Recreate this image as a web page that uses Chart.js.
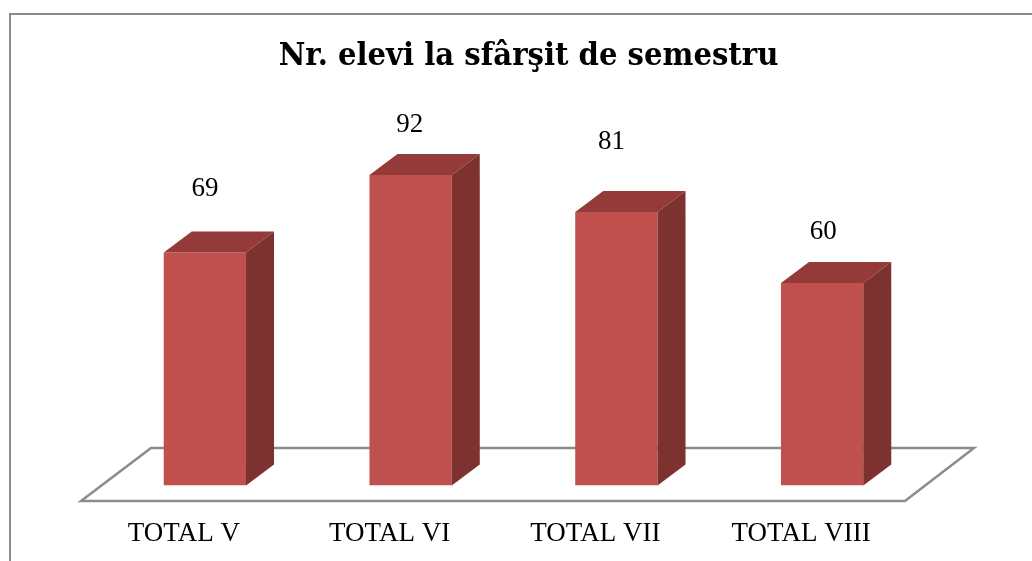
<!DOCTYPE html>
<html>
<head>
<meta charset="utf-8">
<title>Nr. elevi la sfârşit de semestru</title>
<script src="https://cdn.jsdelivr.net/npm/chart.js@4"></script>
<style>
    html, body { margin: 0; padding: 0; background: #fff; }
    #wrap { position: relative; width: 1032px; height: 561px; overflow: hidden; }
    #frame { position: absolute; left: 9px; top: 13px; width: 1040px; height: 560px;
             border-left: 2px solid #8c8c8c; border-top: 2px solid #8c8c8c; box-sizing: border-box; }
</style>
</head>
<body>
<div id="wrap">
    <div id="frame"></div>
    <canvas id="chart" width="1032" height="561" style="position:absolute;left:0;top:0"></canvas>
</div>
<script>
// Data
const categories = ['TOTAL V', 'TOTAL VI', 'TOTAL VII', 'TOTAL VIII'];
const students = [69, 92, 81, 60];
const chartTitle = 'Nr. elevi la sfârşit de semestru';

// The value labels were placed by hand in the original, so each has its own nudge
const labelNudgeX = [0, -1, -5, 1];
const labelNudgeY = [-64, -50, -70, -51];

const SERIF = '"Liberation Serif", serif';

// Fake 3D: floor plate behind the bars, top and side faces on each bar
const box3d = {
    id: 'box3d',
    afterLayout(chart) {
        // title sits a bit right of the plot centre
        chart.titleBlock.left += 15;
        chart.titleBlock.right += 15;
    },
    beforeDatasetsDraw(chart) {
        const { ctx, chartArea, scales } = chart;
        const base = scales.y.getPixelForValue(0);
        ctx.save();
        ctx.strokeStyle = '#8c8c8c';
        ctx.lineWidth = 2.5;
        ctx.beginPath();
        ctx.moveTo(chartArea.left - 21, base + 15.5);
        ctx.lineTo(chartArea.right - 20, base + 15.5);
        ctx.lineTo(chartArea.right + 49, base - 37.5);
        ctx.lineTo(chartArea.left + 49, base - 37.5);
        ctx.closePath();
        ctx.stroke();
        ctx.restore();
    },
    afterDatasetsDraw(chart) {
        const { ctx } = chart;
        const dx = 28, dy = -21;
        ctx.save();
        chart.getDatasetMeta(0).data.forEach((bar, i) => {
            const left = bar.x - bar.width / 2;
            const right = bar.x + bar.width / 2;
            // top face
            ctx.fillStyle = '#943b39';
            ctx.beginPath();
            ctx.moveTo(left, bar.y);
            ctx.lineTo(left + dx, bar.y + dy);
            ctx.lineTo(right + dx, bar.y + dy);
            ctx.lineTo(right, bar.y);
            ctx.closePath();
            ctx.fill();
            // side face
            ctx.fillStyle = '#7d3230';
            ctx.beginPath();
            ctx.moveTo(right, bar.y);
            ctx.lineTo(right + dx, bar.y + dy);
            ctx.lineTo(right + dx, bar.base + dy);
            ctx.lineTo(right, bar.base);
            ctx.closePath();
            ctx.fill();
            // value label
            ctx.fillStyle = '#000';
            ctx.font = '27px ' + SERIF;
            ctx.textAlign = 'center';
            ctx.textBaseline = 'middle';
            ctx.fillText(students[i], bar.x + labelNudgeX[i], bar.y + labelNudgeY[i]);
        });
        ctx.restore();
    }
};

new Chart(document.getElementById('chart'), {
    type: 'bar',
    data: {
        labels: categories,
        datasets: [{
            data: students,
            backgroundColor: '#c0504d',
            barPercentage: 0.4,
            categoryPercentage: 1
        }]
    },
    options: {
        responsive: false,
        animation: false,
        layout: { padding: { left: 102, right: 107, top: 37, bottom: 0 } },
        plugins: {
            legend: { display: false },
            tooltip: { enabled: false },
            title: {
                display: true,
                text: chartTitle,
                color: '#000',
                font: { family: '"DejaVu Serif Condensed", ' + SERIF, size: 32.4, weight: 'bold' },
                padding: { top: 0, bottom: 72 }
            }
        },
        scales: {
            x: {
                grid: { display: false, drawTicks: false },
                border: { display: false },
                ticks: { color: '#000', font: { family: SERIF, size: 27 }, padding: 32, labelOffset: -21, maxRotation: 0 },
                afterFit(scale) { scale.height = 75.5; }
            },
            y: {
                display: false,
                min: 0,
                max: 100
            }
        }
    },
    plugins: [box3d]
});
</script>
</body>
</html>
